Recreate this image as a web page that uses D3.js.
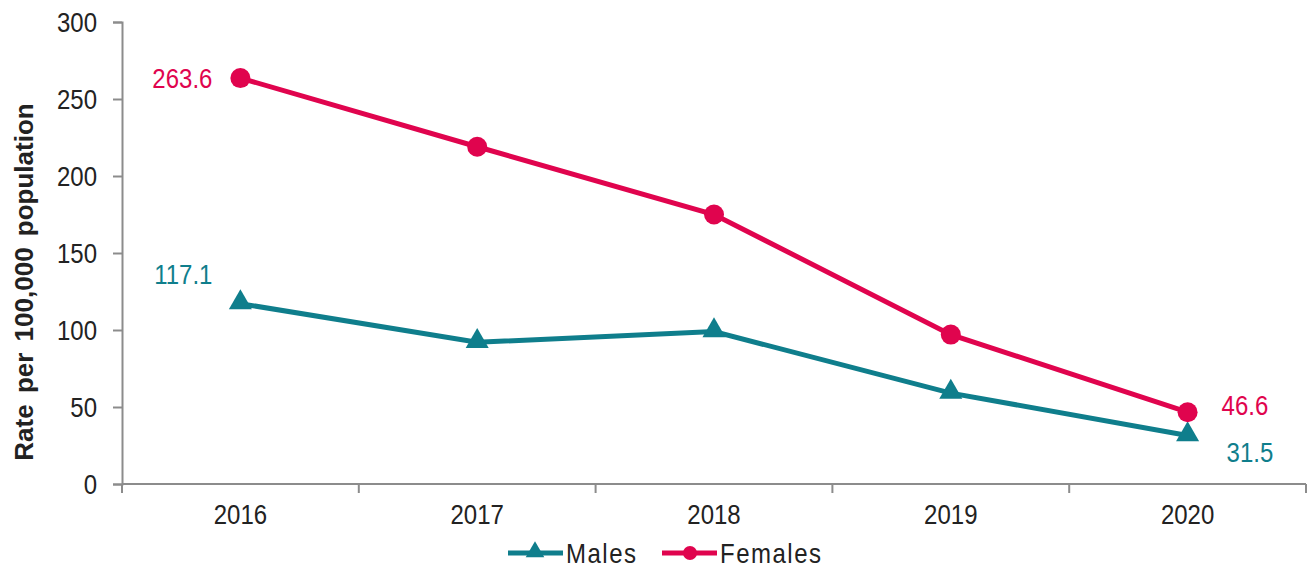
<!DOCTYPE html>
<html>
<head>
<meta charset="utf-8">
<script src="https://cdn.jsdelivr.net/npm/d3@7"></script>
<style>
  body { margin: 0; background: #fff; }
  text { font-family: "Liberation Sans", Arial, sans-serif; }
  /* the source picture has slightly tall glyphs */
  text.tall { transform-box: fill-box; transform-origin: 50% 50%; transform: scaleY(1.17); }
</style>
</head>
<body>
<div id="root"></div>
<script>
const years = ["2016", "2017", "2018", "2019", "2020"]
const males = [117.1, 92, 99, 59, 31.5]
const females = [263.6, 219, 175, 97, 46.6]
const yTicks = [0, 50, 100, 150, 200, 250, 300]

const width = 1311
const height = 569
const margin = { top: 22, right: 5, bottom: 85, left: 122 }
const boundedWidth = width - margin.left - margin.right
const boundedHeight = height - margin.top - margin.bottom

const maleColor = "#0f7e8c"
const femaleColor = "#e0044e"
const axisColor = "#8c8c8c"

const svg = d3.select("#root").append("svg")
  .attr("width", width)
  .attr("height", height)

const bounds = svg.append("g")
  .attr("transform", `translate(${margin.left},${margin.top})`)

const xScale = d3.scaleBand()
  .domain(years)
  .range([0, boundedWidth])

const yScale = d3.scaleLinear()
  .domain([0, 300])
  .range([boundedHeight, 0])

const xMid = d => xScale(d) + xScale.bandwidth() / 2

// y axis
const yAxis = bounds.append("g")
  .call(d3.axisLeft(yScale).tickValues(yTicks).tickSize(9).tickPadding(16))
yAxis.select(".domain").attr("stroke", axisColor).attr("stroke-width", 2)
yAxis.selectAll(".tick line").attr("stroke", axisColor).attr("stroke-width", 2)
yAxis.selectAll(".tick text")
  .attr("class", "tall")
  .attr("font-size", 24)
  .attr("fill", "#222")
  .attr("font-family", "Liberation Sans, Arial, sans-serif")

// x axis with ticks on band edges
const xAxis = bounds.append("g")
  .attr("transform", `translate(0,${boundedHeight})`)
xAxis.append("line")
  .attr("x1", 0).attr("x2", boundedWidth)
  .attr("stroke", axisColor).attr("stroke-width", 2)
const edges = years.map(d => xScale(d)).concat([boundedWidth])
xAxis.selectAll(".edge")
  .data(edges)
  .join("line")
  .attr("class", "edge")
  .attr("x1", d => d).attr("x2", d => d)
  .attr("y1", 0).attr("y2", 9)
  .attr("stroke", axisColor).attr("stroke-width", 2)
xAxis.selectAll(".lbl")
  .data(years)
  .join("text")
  .attr("class", "lbl tall")
  .attr("x", xMid)
  .attr("y", 39)
  .attr("text-anchor", "middle")
  .attr("font-size", 24)
  .attr("fill", "#222")
  .text(d => d)

// y title
svg.append("text")
  .attr("transform", `translate(33,${margin.top + boundedHeight / 2 + 29}) rotate(-90)`)
  .attr("text-anchor", "middle")
  .attr("font-size", 26)
  .attr("font-weight", "bold")
  .attr("fill", "#222")
  .attr("word-spacing", 4)
  .text("Rate per 100,000 population")

const line = d3.line()
  .x((d, i) => xMid(years[i]))
  .y(d => yScale(d))

const triangle = d3.symbol().type(d3.symbolTriangle).size(230)

// males
bounds.append("path")
  .datum(males)
  .attr("d", line)
  .attr("fill", "none")
  .attr("stroke", maleColor)
  .attr("stroke-width", 5)
bounds.selectAll(".m")
  .data(males)
  .join("path")
  .attr("class", "m")
  .attr("d", triangle)
  .attr("transform", (d, i) => `translate(${xMid(years[i])},${yScale(d) - 1})`)
  .attr("fill", maleColor)

// females
bounds.append("path")
  .datum(females)
  .attr("d", line)
  .attr("fill", "none")
  .attr("stroke", femaleColor)
  .attr("stroke-width", 5)
bounds.selectAll(".f")
  .data(females)
  .join("circle")
  .attr("class", "f")
  .attr("cx", (d, i) => xMid(years[i]))
  .attr("cy", d => yScale(d))
  .attr("r", 10)
  .attr("fill", femaleColor)

// value labels
const last = years.length - 1
const labels = [
  { x: xMid(years[0]) - 28, y: yScale(females[0]) + 9, anchor: "end", color: femaleColor, text: females[0] },
  { x: xMid(years[0]) - 28, y: yScale(males[0]) - 21, anchor: "end", color: maleColor, text: males[0] },
  { x: xMid(years[last]) + 34, y: yScale(females[last]) + 1, anchor: "start", color: femaleColor, text: females[last] },
  { x: xMid(years[last]) + 39, y: yScale(males[last]) + 25, anchor: "start", color: maleColor, text: males[last] },
]
bounds.selectAll(".vl")
  .data(labels)
  .join("text")
  .attr("class", "vl tall")
  .attr("x", d => d.x)
  .attr("y", d => d.y)
  .attr("text-anchor", d => d.anchor)
  .attr("font-size", 24)
  .attr("fill", d => d.color)
  .text(d => d.text)

// legend
const legend = svg.append("g").attr("transform", "translate(508,553)")
const items = [
  { name: "Males", color: maleColor, shape: "tri", x: 0 },
  { name: "Females", color: femaleColor, shape: "dot", x: 154 },
]
items.forEach(it => {
  const g = legend.append("g").attr("transform", `translate(${it.x},0)`)
  g.append("line")
    .attr("x1", 0).attr("x2", 55)
    .attr("stroke", it.color).attr("stroke-width", 5)
  if (it.shape === "tri") {
    g.append("path")
      .attr("d", d3.symbol().type(d3.symbolTriangle).size(150)())
      .attr("transform", "translate(27,-1)")
      .attr("fill", it.color)
  } else {
    g.append("circle").attr("cx", 28).attr("r", 7).attr("fill", it.color)
  }
  g.append("text")
    .attr("class", "tall")
    .attr("x", 58)
    .attr("y", 9)
    .attr("font-size", 24)
    .attr("letter-spacing", 1.5)
    .attr("fill", "#222")
    .text(it.name)
})
</script>
</body>
</html>
